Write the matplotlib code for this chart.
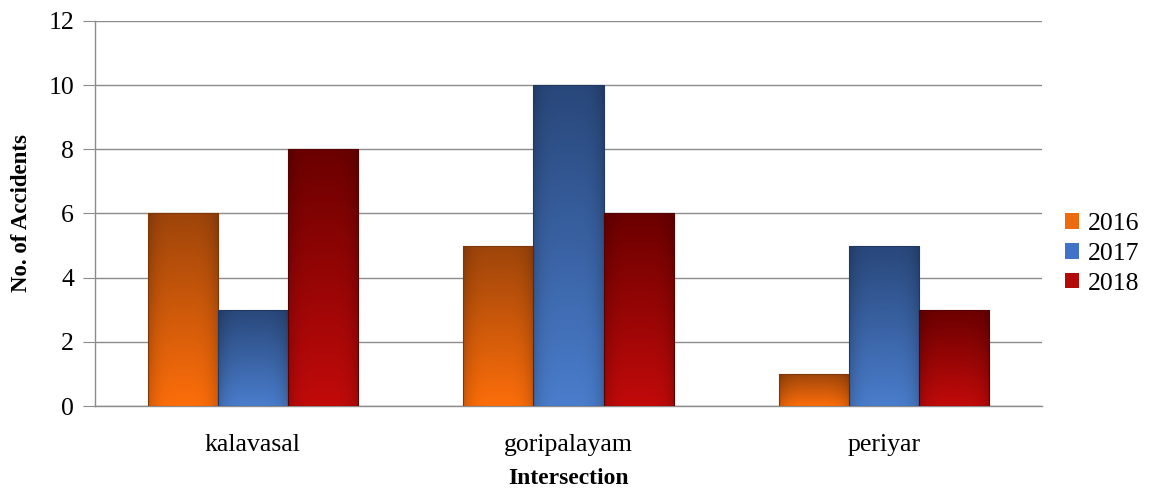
import numpy as np
import matplotlib
matplotlib.use("Agg")
import matplotlib.pyplot as plt
from matplotlib.patches import Patch

# accidents per intersection and year
intersections = ["kalavasal", "goripalayam", "periyar"]
years = ["2016", "2017", "2018"]
acc_2016 = [6, 5, 1]
acc_2017 = [3, 10, 5]
acc_2018 = [8, 6, 3]

# (top colour, bottom colour, legend colour) for each year
shades = {
    "2016": ((0.62, 0.27, 0.04), (0.99, 0.43, 0.04), (0.93, 0.42, 0.06)),
    "2017": ((0.16, 0.28, 0.48), (0.29, 0.49, 0.80), (0.25, 0.45, 0.78)),
    "2018": ((0.42, 0.00, 0.00), (0.76, 0.04, 0.04), (0.70, 0.04, 0.04)),
}

plt.rcParams['font.family'] = ['Liberation Serif', 'DejaVu Serif']

fig = plt.figure(figsize=(11.5, 4.9), dpi=100)
ax = fig.add_axes([0.0826, 0.1714, 0.8235, 0.7858])

x = np.arange(len(intersections))
w = 0.222
series = [acc_2016, acc_2017, acc_2018]


def gradient_fill(patch, top, bottom):
    # vertical dark-to-light shading with slightly darker side edges
    ny, nx = 100, 40
    t = np.linspace(0, 1, ny)[:, None, None]
    col = np.array(top)[None, None, :] * (1 - t) + np.array(bottom)[None, None, :] * t
    u = np.linspace(-1, 1, nx)[None, :, None]
    edge = 1 - 0.18 * np.abs(u) ** 4
    img = np.clip(col * edge, 0, 1)
    bx, by = patch.get_x(), patch.get_y()
    bw, bh = patch.get_width(), patch.get_height()
    im = ax.imshow(img, extent=(bx, bx + bw, by, by + bh), aspect='auto',
                   origin='upper', zorder=3, interpolation='bilinear')
    im.set_clip_path(patch)


for i, (yr, vals) in enumerate(zip(years, series)):
    top, bottom, _ = shades[yr]
    bars = ax.bar(x + (i - 1) * w, vals, w, color='none',
                  edgecolor=tuple(c * 0.8 for c in top), linewidth=0.8, zorder=4)
    for p in bars:
        gradient_fill(p, top, bottom)

ax.set_xlim(-0.5, 2.5)
ax.set_ylim(0, 12)
ax.set_yticks(range(0, 13, 2))
ax.set_xticks(x)
ax.set_xticklabels(intersections)
ax.grid(axis='y', color='#8c8c8c', linewidth=1.0, zorder=0)
ax.set_axisbelow(True)

for s in ['top', 'right']:
    ax.spines[s].set_visible(False)
for s in ['left', 'bottom']:
    ax.spines[s].set_color('#8c8c8c')
    ax.spines[s].set_linewidth(1.0)

ax.tick_params(axis='y', length=9, color='#8c8c8c', labelsize=18.5, pad=6)
ax.tick_params(axis='x', length=0, labelsize=18.5, pad=20)

ax.set_xlabel("Intersection", fontsize=17, fontweight='bold', labelpad=9)
ax.set_ylabel("No. of Accidents", fontsize=16.5, fontweight='bold', labelpad=12)

handles = [Patch(facecolor=shades[yr][2], edgecolor='none') for yr in years]
ax.legend(handles, years, loc='center left', bbox_to_anchor=(1.005, 0.395),
          frameon=False, fontsize=18.5, handlelength=0.55, handleheight=0.55,
          handletextpad=0.35, labelspacing=0.3, borderpad=0.2)

fig.savefig("out.png", dpi=100)
